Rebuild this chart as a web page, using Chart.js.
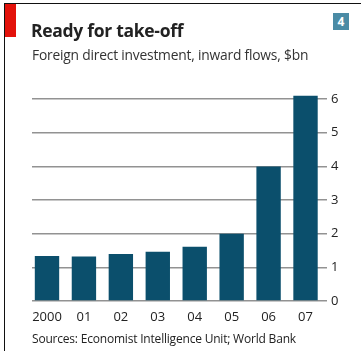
<!DOCTYPE html>
<html>
<head>
<meta charset="utf-8">
<script src="https://cdn.jsdelivr.net/npm/chart.js@4.4.1/dist/chart.umd.min.js"></script>
<style>
  html, body { margin: 0; padding: 0; background: #fff; }
  #wrap { position: relative; width: 361px; height: 351px; overflow: hidden; background: #fff; font-family: "Open Sans", "Noto Sans", sans-serif; }
  #frameTop { position: absolute; left: 4px; top: 3px; width: 357px; height: 1px; background: #111; }
  #frameLeft { position: absolute; left: 4px; top: 3px; width: 1px; height: 348px; background: #111; }
  #redTab { position: absolute; left: 5px; top: 4px; width: 11px; height: 33px; background: #e3120b; }
  #num { position: absolute; left: 333px; top: 13px; width: 16px; height: 17px; background: #4a8ba5; color: #fff; font-weight: 700; font-size: 12px; line-height: 17px; text-align: center; }
  #title { position: absolute; left: 31px; top: 18px; font-size: 17.5px; font-weight: 700; color: #222; white-space: nowrap; letter-spacing: -0.3px; }
  #subtitle { position: absolute; left: 32px; top: 45px; font-size: 13.8px; color: #333; white-space: nowrap; letter-spacing: -0.2px; }
  #source { position: absolute; left: 32px; top: 330px; font-size: 12px; color: #222; white-space: nowrap; letter-spacing: -0.2px; }
  #c { position: absolute; left: 0; top: 0; }
</style>
</head>
<body>
<div id="wrap">
  <canvas id="c" width="361" height="351"></canvas>
  <div id="frameTop"></div>
  <div id="frameLeft"></div>
  <div id="redTab"></div>
  <div id="num">4</div>
  <div id="title">Ready for take-off</div>
  <div id="subtitle">Foreign direct investment, inward flows, $bn</div>
  <div id="source">Sources: Economist Intelligence Unit; World Bank</div>
</div>
<script>
// Years shown along the bottom
const years = ['2000', '01', '02', '03', '04', '05', '06', '07'];
// Inward FDI flows, $bn
const inflows = [1.34, 1.32, 1.40, 1.46, 1.61, 2.0, 4.0, 6.1];
// Right-hand axis ticks
const yTicks = [0, 1, 2, 3, 4, 5, 6];

const points = inflows.map((v, i) => ({ x: i, y: v }));

new Chart(document.getElementById('c'), {
  type: 'bar',
  data: {
    datasets: [{
      data: points,
      backgroundColor: '#0b4f6c',
      borderWidth: 0,
      barPercentage: 0.66,
      categoryPercentage: 1
    }]
  },
  options: {
    responsive: false,
    animation: false,
    events: [],
    layout: { padding: { left: 32, top: 89, right: 0, bottom: 0 } },
    plugins: { legend: { display: false }, tooltip: { enabled: false } },
    scales: {
      x: {
        type: 'linear',
        offset: false,
        min: -0.406,
        max: 7.338,
        afterBuildTicks: s => { s.ticks = years.map((_, i) => ({ value: i })); },
        afterFit: s => { s.height = 50; },
        grid: { display: false, drawTicks: false, offset: false },
        border: { display: false },
        ticks: {
          padding: 8,
          autoSkip: false,
          maxRotation: 0,
          color: '#222',
          font: { family: '"Open Sans", "Noto Sans", sans-serif', size: 13 },
          callback: v => years[v]
        }
      },
      y: {
        position: 'right',
        min: 0,
        max: 6.3,
        afterBuildTicks: s => { s.ticks = yTicks.map(v => ({ value: v })); },
        afterFit: s => { s.width = 43; },
        grid: { color: '#929292', lineWidth: 1.5, tickLength: 9, drawTicks: true },
        border: { display: false },
        ticks: {
          padding: 4,
          color: '#222',
          font: { family: '"Open Sans", "Noto Sans", sans-serif', size: 13 }
        }
      }
    }
  }
});
</script>
</body>
</html>
